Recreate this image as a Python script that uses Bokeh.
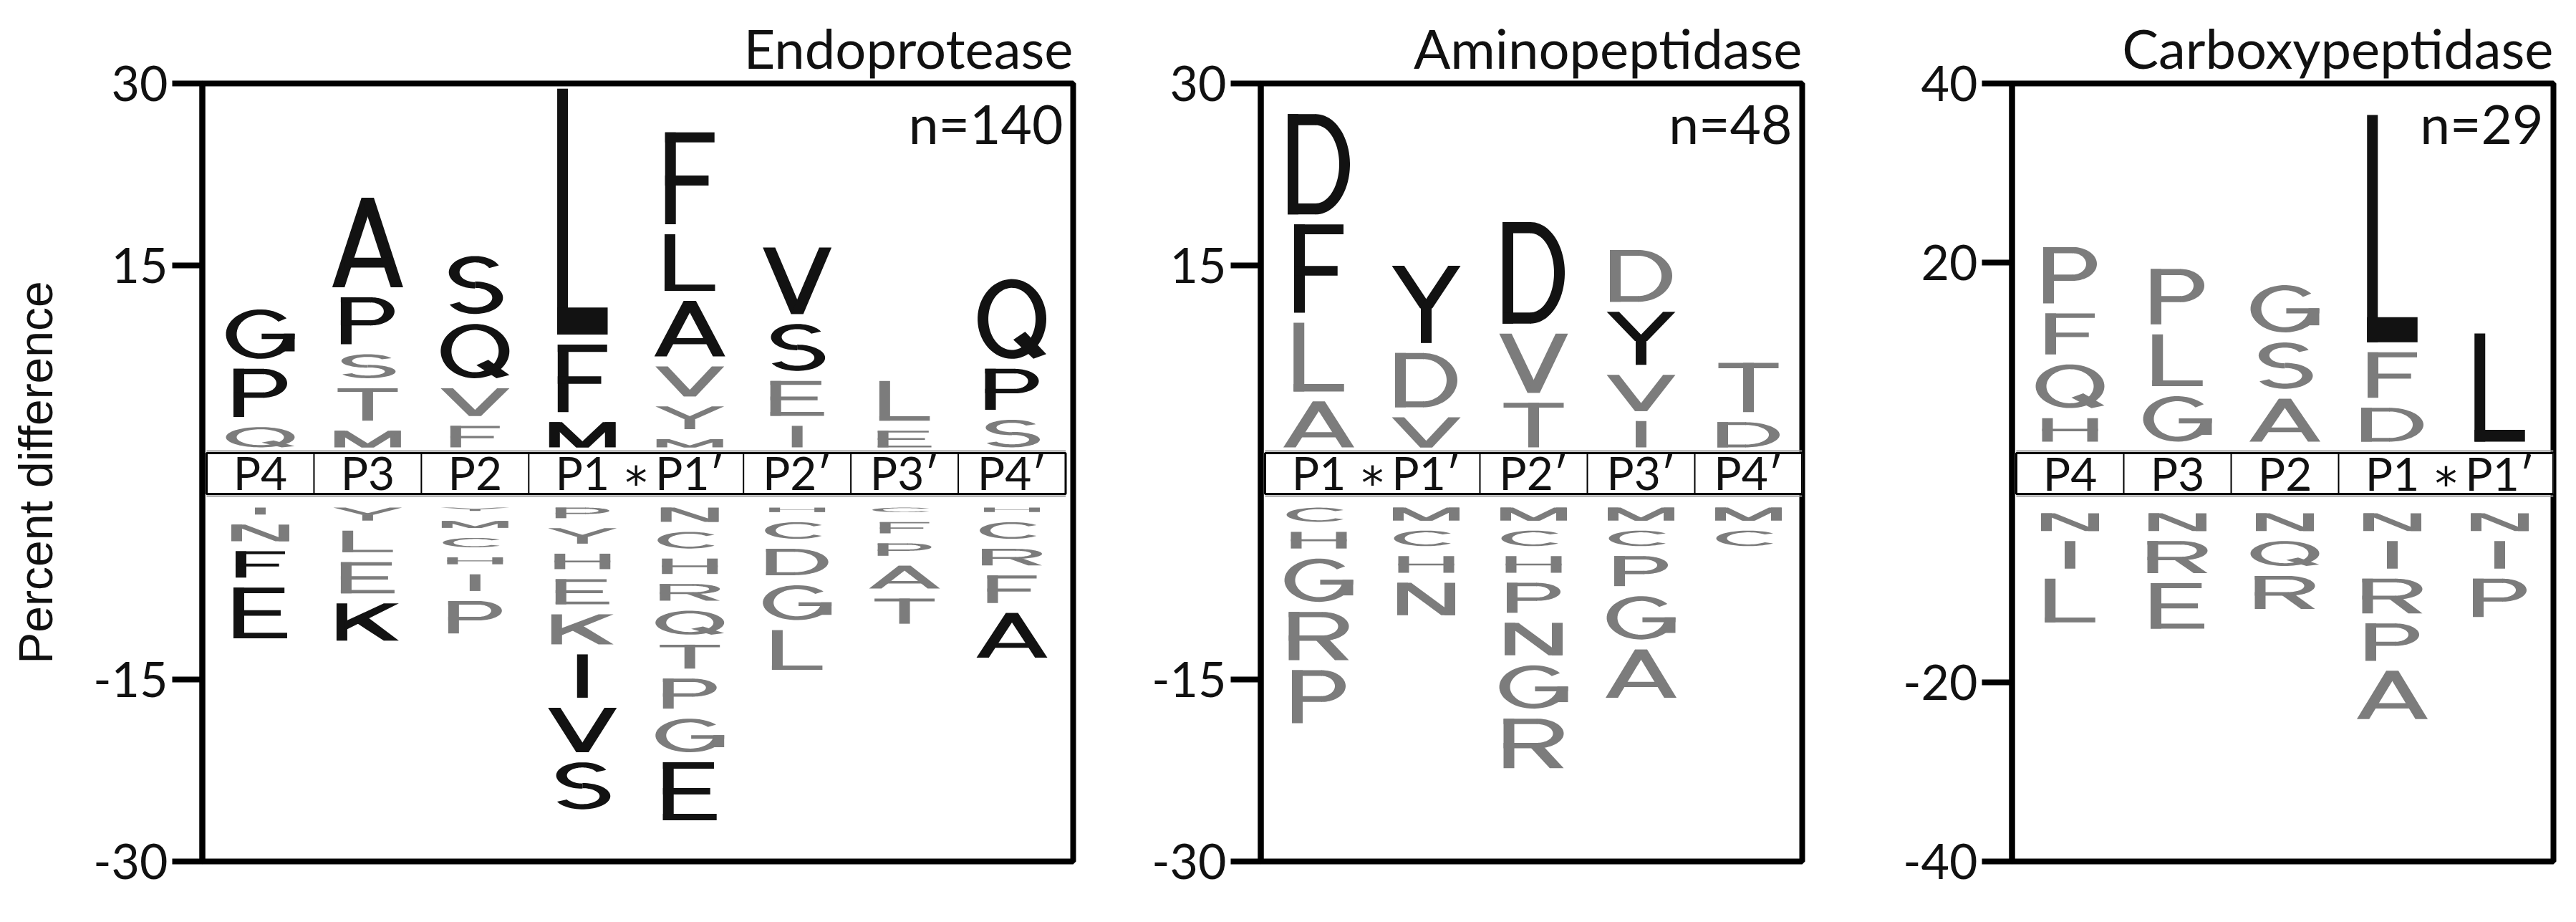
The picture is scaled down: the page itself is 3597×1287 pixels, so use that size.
import numpy as np
from bokeh.plotting import figure
from bokeh.layouts import row
from bokeh.models import Range1d, FixedTicker, Label
from bokeh.embed import file_html
from bokeh.resources import INLINE
from bokeh.core.properties import value

# ---------------- data (percent difference per residue) ----------------
# Endoprotease
endo_positions = ["P4", "P3", "P2", "P1", "P1\u2032", "P2\u2032", "P3\u2032", "P4\u2032"]
endo_pos_letters = ["QPG", "MTSPA", "FVQS", "MFL", "MYVALF", "IESV", "EL", "SPQ"]
endo_pos_values = [[2.5, 4.8, 4.9], [2.2, 3.5, 2.8, 4.7, 8.2], [2.6, 3.1, 5.3, 5.6],
                   [2.9, 6.4, 21.1], [1.5, 2.7, 3.3, 5.4, 5.5, 8.4], [2.6, 3.7, 4.7, 6.3],
                   [2.2, 4.1], [3.1, 4.2, 7.4]]
endo_pos_signif = ["011", "00011", "0011", "111", "000111", "0011", "00", "011"]
endo_neg_letters = ["INFE", "YLEK", "YMCHIP", "PYHEKIVS", "NCHRQTPGE", "HCDGL", "CFPAT", "HCRFA"]
endo_neg_values = [[1.4, 2.2, 3.0, 5.0], [1.9, 2.6, 3.4, 3.9], [1.1, 1.4, 1.6, 1.4, 2.2, 3.5],
                   [1.7, 2.1, 2.1, 2.9, 3.3, 4.4, 4.5, 4.7],
                   [2.0, 2.2, 2.1, 2.2, 2.8, 2.8, 3.3, 3.6, 5.6],
                   [1.2, 2.2, 3.0, 3.7, 4.1], [1.2, 1.75, 1.85, 2.7, 2.9], [1.2, 2.2, 2.2, 3.1, 4.5]]
endo_neg_signif = ["0011", "0001", "000000", "00000111", "000000001", "00000", "00000", "00001"]

# Aminopeptidase
amino_positions = ["P1", "P1\u2032", "P2\u2032", "P3\u2032", "P4\u2032"]
amino_pos_letters = ["ALFD", "VDY", "TVD", "IVYD", "DT"]
amino_pos_values = [[4.6, 6.5, 8.1, 9.1], [3.3, 5.3, 7.2], [4.5, 5.7, 9.2], [3.0, 3.8, 5.2, 5.1], [2.9, 4.9]]
amino_pos_signif = ["0011", "001", "001", "0010", "00"]
amino_neg_letters = ["CHGRP", "MCHN", "MCHPNGR", "MCPGA", "MC"]
amino_neg_values = [[2.0, 2.2, 4.4, 4.8, 5.2], [1.9, 2.1, 2.2, 3.5], [1.9, 2.1, 2.2, 3.3, 3.5, 4.4, 4.9],
                    [1.9, 2.1, 3.3, 4.4, 4.8], [1.9, 2.1]]
amino_neg_signif = ["00000", "0000", "0000000", "00000", "00"]

# Carboxypeptidase
carb_positions = ["P4", "P3", "P2", "P1", "P1\u2032"]
carb_pos_letters = ["HQFP", "GLP", "ASG", "DFL", "L"]
carb_pos_values = [[3.75, 6.0, 5.7, 7.4], [6.2, 6.9, 7.3], [5.9, 6.3, 6.4], [4.9, 6.2, 26.5], [13.2]]
carb_pos_signif = ["0000", "000", "000", "001", "1"]
carb_neg_letters = ["NIL", "NRE", "NQR", "NIRPA", "NIP"]
carb_neg_values = [[3.1, 4.2, 6.0], [3.1, 4.7, 6.2], [3.1, 3.9, 4.8], [3.1, 4.2, 5.0, 5.3, 6.5], [3.1, 4.2, 5.4]]
carb_neg_signif = ["000", "000", "000", "00000", "000"]

panel_titles = ["Endoprotease", "Aminopeptidase", "Carboxypeptidase"]
panel_counts = ["n=140", "n=48", "n=29"]

# ---------------- styling ----------------
BLACK = "#121212"
GRAY = "#7c7c7c"
STEM = 0.10      # stem width in column units
SH = 0.11        # horizontal bar thickness (fraction of glyph height)
LETTER_W = {"A": .66, "C": .60, "D": .58, "E": .50, "F": .46, "G": .64, "H": .52, "I": .11,
            "K": .58, "L": .47, "M": .62, "N": .54, "P": .50, "Q": .64, "R": .56, "S": .52,
            "T": .56, "V": .64, "Y": .64}


def rect(x0, y0, x1, y1):
    return [x0, x1, x1, x0], [y0, y0, y1, y1]


def poly(*pts):
    return [q[0] for q in pts], [q[1] for q in pts]


def arc(cx, cy, rxo, ryo, rxi, ryi, a0, a1, n=48):
    t = np.radians(np.linspace(a0, a1, n))
    xo = cx + rxo * np.cos(t)
    yo = cy + ryo * np.sin(t)
    xi = cx + rxi * np.cos(t[::-1])
    yi = cy + ryi * np.sin(t[::-1])
    return list(xo) + list(xi), list(yo) + list(yi)


def glyph(ch, sw, sh):
    P = []
    if ch == "A":
        d = min(0.45, sw * 1.15)
        P.append(poly((0, 0), (d, 0), (0.5 + d / 2, 1), (0.5 - d / 2, 1)))
        P.append(poly((1 - d, 0), (1, 0), (0.5 + d / 2, 1), (0.5 - d / 2, 1)))
        vb = 0.22
        xl = vb * (0.5 - d / 2) + d * 0.5
        P.append(rect(xl, vb, 1 - xl, vb + sh))
    elif ch == "C":
        P.append(arc(0.5, 0.5, 0.5, 0.5, 0.5 - sw, 0.5 - sh, 40, 320))
    elif ch == "D":
        P.append(rect(0, 0, sw, 1))
        P.append(rect(0, 1 - sh, 0.46, 1))
        P.append(rect(0, 0, 0.46, sh))
        P.append(arc(0.45, 0.5, 0.55, 0.5, 0.55 - sw, 0.5 - sh, -90, 90))
    elif ch == "E":
        P.append(rect(0, 0, sw, 1))
        P.append(rect(0, 1 - sh, 0.95, 1))
        P.append(rect(0, 0.445, 0.88, 0.445 + sh))
        P.append(rect(0, 0, 1, sh))
    elif ch == "F":
        P.append(rect(0, 0, sw, 1))
        P.append(rect(0, 1 - sh, 1, 1))
        P.append(rect(0, 0.42, 0.88, 0.42 + sh))
    elif ch == "G":
        P.append(arc(0.5, 0.5, 0.5, 0.5, 0.5 - sw, 0.5 - sh, 40, 360))
        P.append(rect(0.52, 0.40, 1.0, 0.40 + sh))
        P.append(rect(1 - sw, 0.15, 1.0, 0.40 + sh))
    elif ch == "H":
        P.append(rect(0, 0, sw, 1))
        P.append(rect(1 - sw, 0, 1, 1))
        P.append(rect(0, 0.44, 1, 0.44 + sh))
    elif ch == "I":
        P.append(rect(0.5 - sw / 2, 0, 0.5 + sw / 2, 1))
    elif ch == "K":
        P.append(rect(0, 0, sw, 1))
        P.append(poly((sw * 0.8, 0.28), (1.0, 1.0), (1.0 - 1.4 * sw, 1.0), (sw * 0.8, 0.52)))
        P.append(poly((0.30, 0.50), (0.30 + 1.2 * sw, 0.62), (1.0, 0.0), (1.0 - 1.4 * sw, 0.0)))
    elif ch == "L":
        P.append(rect(0, 0, sw, 1))
        P.append(rect(0, 0, 1, sh))
    elif ch == "M":
        d = sw * 1.2
        P.append(rect(0, 0, sw, 1))
        P.append(rect(1 - sw, 0, 1, 1))
        P.append(poly((0, 1), (d, 1), (0.5 + d / 2, 0), (0.5 - d / 2, 0)))
        P.append(poly((1, 1), (1 - d, 1), (0.5 - d / 2, 0), (0.5 + d / 2, 0)))
    elif ch == "N":
        d = sw * 1.3
        P.append(rect(0, 0, sw, 1))
        P.append(rect(1 - sw, 0, 1, 1))
        P.append(poly((0, 1), (d, 1), (1, 0), (1 - d, 0)))
    elif ch in ("P", "R"):
        P.append(rect(0, 0, sw, 1))
        P.append(rect(0, 1 - sh, 0.56, 1))
        P.append(rect(0, 0.40, 0.56, 0.40 + sh))
        P.append(arc(0.55, 0.70, 0.45, 0.30, 0.45 - sw, 0.30 - sh, -90, 90))
        if ch == "R":
            d = sw * 1.3
            P.append(poly((0.42, 0.40 + sh * 0.5), (0.42 + d, 0.40 + sh * 0.5), (1, 0), (1 - d, 0)))
    elif ch == "Q":
        P.append(arc(0.5, 0.5, 0.5, 0.5, 0.5 - sw, 0.5 - sh, 0, 360, 72))
        P.append(poly((0.52, 0.24), (0.52 + sw * 1.1, 0.34), (1.0, 0.06), (1.0 - sw * 1.2, 0.0)))
    elif ch == "S":
        P.append(arc(0.5, 0.72, 0.47, 0.28, 0.47 - sw, 0.28 - sh, 25, 270))
        P.append(arc(0.5, 0.28, 0.5, 0.28, 0.5 - sw, 0.28 - sh, 90, -155))
    elif ch == "T":
        P.append(rect(0, 1 - sh, 1, 1))
        P.append(rect(0.5 - sw / 2, 0, 0.5 + sw / 2, 1))
    elif ch == "V":
        d = sw * 1.15
        P.append(poly((0, 1), (d, 1), (0.5 + d / 2, 0), (0.5 - d / 2, 0)))
        P.append(poly((1, 1), (1 - d, 1), (0.5 - d / 2, 0), (0.5 + d / 2, 0)))
    elif ch == "Y":
        d = sw * 1.15
        P.append(poly((0, 1), (d, 1), (0.5 + d / 2, 0.45), (0.5 - d / 2, 0.45)))
        P.append(poly((1, 1), (1 - d, 1), (0.5 - d / 2, 0.45), (0.5 + d / 2, 0.45)))
        P.append(rect(0.5 - sw / 2, 0, 0.5 + sw / 2, 0.47))
    return P


def stack_patches(letters_list, values_list, signif_list, sign, off, gap):
    xs, ys, cols = [], [], []
    for i, (lets, vals, sig) in enumerate(zip(letters_list, values_list, signif_list)):
        cum = 0.0
        for ch, v, s in zip(lets, vals, sig):
            h = v - gap
            if sign > 0:
                yb = off + cum
            else:
                yb = -off - cum - v
            cum += v
            if h <= 0:
                continue
            w = LETTER_W[ch]
            sw = min(1.0, STEM / w)
            for (u, vv) in glyph(ch, sw, SH):
                xs.append(list(i + 0.5 + (np.array(u) - 0.5) * w))
                ys.append(list(yb + np.array(vv) * h))
                cols.append(BLACK if s == "1" else GRAY)
    return xs, ys, cols


FRAME_H = 1086


def make_panel(idx, positions, cleave, pos_l, pos_v, pos_s, neg_l, neg_v, neg_s,
               ymax, ytick, off, band_lo, band_hi, pad_r, border_left, border_right, axis_label):
    ncols = len(positions)
    x0, x1 = -0.04, ncols + pad_r
    frame_w = int(round((x1 - x0) * 150))
    yspan = 2 * (ymax + off)
    pxu = FRAME_H / yspan
    gap = 14.0 / pxu
    p = figure(frame_width=frame_w, frame_height=FRAME_H,
               x_range=Range1d(x0, x1), y_range=Range1d(-ymax - off, ymax + off),
               toolbar_location=None, output_backend="svg", x_axis_location=None,
               min_border_left=border_left, min_border_right=border_right,
               min_border_top=116, min_border_bottom=45)
    p.grid.visible = False
    p.outline_line_color = "black"
    p.outline_line_width = 8
    p.background_fill_color = "white"

    # title
    p.title.text = panel_titles[idx]
    p.title.align = "right"
    p.title.text_font = "Lato"
    p.title.text_font_size = "76px"
    p.title.text_font_style = "normal"
    p.title.text_color = "#111111"
    p.title.standoff = 10

    # axis
    ticks = [-ymax - off, -ytick - off, ytick + off, ymax + off]
    labels = [str(-ymax), str(-ytick), str(ytick), str(ymax)]
    ax = p.yaxis[0]
    ax.ticker = FixedTicker(ticks=ticks)
    ax.major_label_overrides = {t: l for t, l in zip(ticks, labels)}
    ax.major_tick_out = 42
    ax.major_tick_in = 0
    ax.minor_tick_out = 0
    ax.minor_tick_in = 0
    ax.major_tick_line_width = 8
    ax.axis_line_width = 8
    ax.major_label_standoff = 6
    ax.major_label_text_font = "Lato"
    ax.major_label_text_font_size = "68px"
    ax.major_label_text_color = "#111111"
    if axis_label:
        ax.axis_label = axis_label
        ax.axis_label_text_font = "Liberation Sans"
        ax.axis_label_text_font_size = "66px"
        ax.axis_label_text_font_style = "normal"
        ax.axis_label_text_color = "#111111"
        ax.axis_label_standoff = 40

    # logo letters
    for sign, L, V, S in ((1, pos_l, pos_v, pos_s), (-1, neg_l, neg_v, neg_s)):
        xs, ys, cols = stack_patches(L, V, S, sign, off, gap)
        p.patches(xs=xs, ys=ys, fill_color=cols, line_color=None)

    # position band
    g = 3.0 / pxu
    p.segment(x0=[0, 0], y0=[band_hi + g, band_lo - g], x1=[ncols, ncols],
              y1=[band_hi + g, band_lo - g], line_color="#9a9a9a", line_width=2)
    p.quad(left=[0], right=[ncols], bottom=[band_lo], top=[band_hi],
           fill_color="white", line_color="black", line_width=3)
    div = [k for k in range(1, ncols) if k != cleave + 1]
    p.segment(x0=div, y0=[band_lo] * len(div), x1=div, y1=[band_hi] * len(div),
              line_color="black", line_width=2)
    mid = 0.5 * (band_lo + band_hi)
    p.text(x=[k + 0.5 for k in range(ncols)], y=[mid + 1.0 / pxu] * ncols, text=positions,
           text_font=value("Lato"), text_font_size="64px", text_align="center",
           text_baseline="middle", text_color="#111111")
    p.text(x=[cleave + 1], y=[mid - 14.0 / pxu], text=["*"],
           text_font=value("DejaVu Sans"), text_font_size="62px", text_align="center",
           text_baseline="middle", text_color="#111111")

    # n label
    p.add_layout(Label(x=x1 - 14.0 / 150, y=ymax + off - 10.0 / pxu, text=panel_counts[idx],
                       text_align="right", text_baseline="top", text_font="Lato",
                       text_font_size="75px", text_color="#111111"))
    return p


p1 = make_panel(0, endo_positions, 3, endo_pos_letters, endo_pos_values, endo_pos_signif,
                endo_neg_letters, endo_neg_values, endo_neg_signif,
                30, 15, 2.07, -1.77, 1.6, 0.07, 282, 102, "Percent difference")
p2 = make_panel(1, amino_positions, 0, amino_pos_letters, amino_pos_values, amino_pos_signif,
                amino_neg_letters, amino_neg_values, amino_neg_signif,
                30, 15, 2.07, -1.77, 1.6, 0.0, 160, 125, None)
p3 = make_panel(2, carb_positions, 3, carb_pos_letters, carb_pos_values, carb_pos_signif,
                carb_neg_letters, carb_neg_values, carb_neg_signif,
                40, 20, 3.44, -2.4, 2.16, 0.0, 168, 8, None)

layout = row(p1, p2, p3)
open("out.html", "w").write(file_html(layout, INLINE))
